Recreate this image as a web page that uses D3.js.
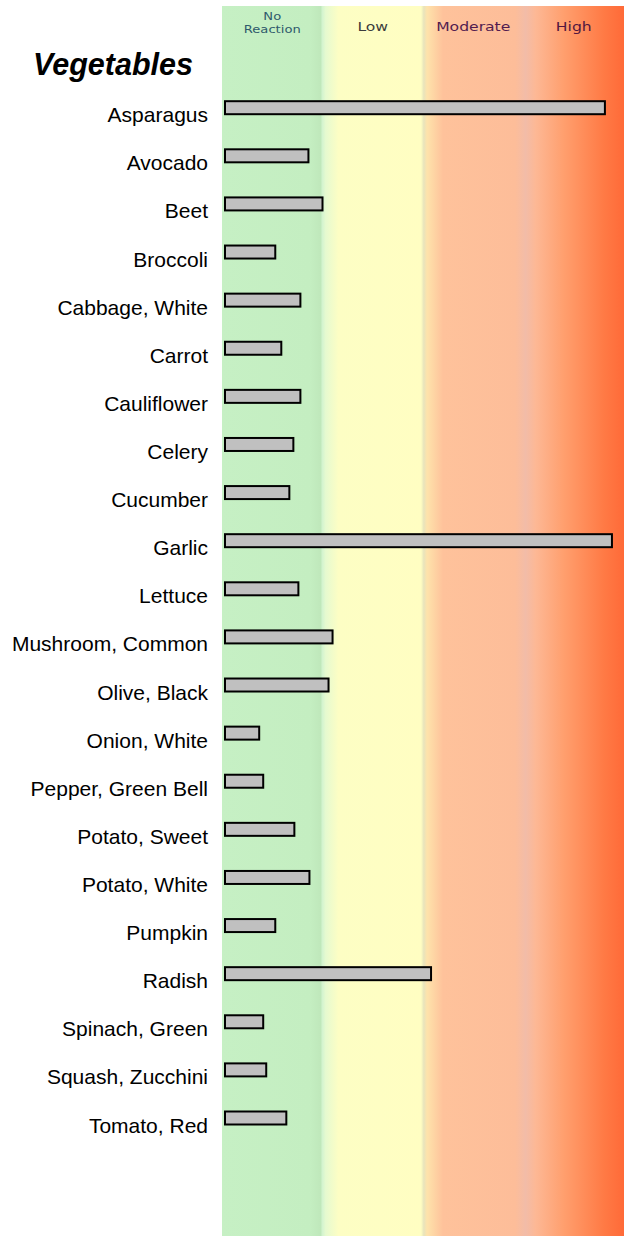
<!DOCTYPE html>
<html>
<head>
<meta charset="utf-8">
<script src="https://cdn.jsdelivr.net/npm/d3@7"></script>
<style>
  html, body { margin: 0; padding: 0; background: #fff; }
  svg { display: block; }
</style>
</head>
<body>
<div id="chart"></div>
<script>
// chart data
const title = 'Vegetables'
const levels = ['No Reaction', 'Low', 'Moderate', 'High']
const foods = [
    'Asparagus', 'Avocado', 'Beet', 'Broccoli', 'Cabbage, White', 'Carrot',
    'Cauliflower', 'Celery', 'Cucumber', 'Garlic', 'Lettuce', 'Mushroom, Common',
    'Olive, Black', 'Onion, White', 'Pepper, Green Bell', 'Potato, Sweet',
    'Potato, White', 'Pumpkin', 'Radish', 'Spinach, Green', 'Squash, Zucchini',
    'Tomato, Red'
]
// reaction score, 0 - 4 (one unit per level)
const scores = [
    3.82, 0.87, 1.01, 0.54, 0.79, 0.60,
    0.79, 0.72, 0.68, 3.89, 0.77, 1.11,
    1.07, 0.38, 0.42, 0.73,
    0.88, 0.54, 2.09, 0.42, 0.45,
    0.65
]

const width = 624
const height = 1236
const margin = {top: 6, right: 0, bottom: 0, left: 222}

const svg = d3.select('#chart').append('svg')
    .attr('width', width)
    .attr('height', height)

// x scale over the four levels
const x = d3.scaleLinear()
    .domain([0, levels.length])
    .range([margin.left, width - margin.right])

// y scale, one row per food
const y = d3.scalePoint()
    .domain(foods)
    .range([107.7, 1118])

// background colour band
const grad = svg.append('defs').append('linearGradient')
    .attr('id', 'band')
    .attr('x1', 0).attr('x2', 1).attr('y1', 0).attr('y2', 0)

const stops = [
    [0, '#c6f0c4'], [0.22, '#c4eec1'], [0.245, '#bfe8bb'], [0.25, '#d4f4cf'],
    [0.258, '#e6fad0'], [0.29, '#fdfec4'], [0.495, '#fffec2'], [0.502, '#e8e4bc'],
    [0.51, '#fee3ab'], [0.55, '#fec29b'], [0.73, '#fdbd99'], [0.755, '#f2bca8'],
    [0.78, '#fdb895'], [0.85, '#ff9f6e'], [0.95, '#ff7a45'], [1, '#ff6a38']
]
grad.selectAll('stop')
    .data(stops)
    .enter().append('stop')
    .attr('offset', d => d[0])
    .attr('stop-color', d => d[1])

svg.append('rect')
    .attr('x', x(0))
    .attr('y', margin.top)
    .attr('width', x(levels.length) - x(0))
    .attr('height', height - margin.top - margin.bottom)
    .attr('fill', 'url(#band)')

// level headers
const headColors = ['#2f5a6c', '#3c3c3c', '#521c50', '#521640']
const heads = svg.append('g')
    .attr('font-family', 'Verdana, "DejaVu Sans", sans-serif')
    .attr('text-anchor', 'middle')

levels.forEach(function(lv, i) {
    const words = lv.split(' ')
    const t = heads.append('text')
        .attr('fill', headColors[i])
        .attr('transform', 'translate(' + x(i + 0.5) + ',0) scale(1.25,1)')
    if (words.length > 1) {
        // two-line header
        t.attr('font-size', '10.5px')
        t.append('tspan').attr('x', 0).attr('y', 20.5).text(words[0])
        t.append('tspan').attr('x', 0).attr('y', 33).text(words.slice(1).join(' '))
    } else {
        t.attr('font-size', '12.5px').attr('y', 31.5).text(lv)
    }
})

// title
svg.append('text')
    .attr('x', 33)
    .attr('y', 75)
    .attr('font-family', '"Liberation Sans", Arial, sans-serif')
    .attr('font-size', '30.5px')
    .attr('font-weight', 'bold')
    .attr('font-style', 'italic')
    .attr('fill', '#000')
    .text(title)

// row labels
svg.append('g')
    .selectAll('text')
    .data(foods)
    .enter().append('text')
    .attr('x', 208)
    .attr('y', d => y(d) + 14.5)
    .attr('text-anchor', 'end')
    .attr('font-family', '"Liberation Sans", Arial, sans-serif')
    .attr('font-size', '21px')
    .attr('fill', '#000')
    .text(d => d)

// bars
const barH = 13
svg.append('g')
    .selectAll('rect')
    .data(foods)
    .enter().append('rect')
    .attr('x', x(0) + 3)
    .attr('y', d => y(d) - barH / 2)
    .attr('width', (d, i) => x(scores[i]) - x(0) - 4)
    .attr('height', barH)
    .attr('fill', '#c0c0c0')
    .attr('stroke', '#000')
    .attr('stroke-width', 2)
</script>
</body>
</html>
